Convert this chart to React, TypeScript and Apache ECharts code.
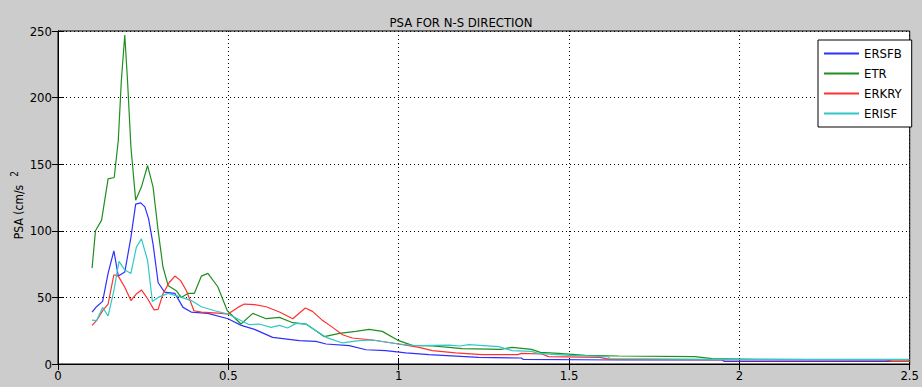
import React, { useEffect, useRef } from "react";
import * as echarts from "echarts";

const TITLE = "PSA FOR N-S DIRECTION";
const SERIES_NAMES = ["ERSFB", "ETR", "ERKRY", "ERISF"];
const X_TICKS = [0, 0.5, 1, 1.5, 2, 2.5];
const Y_TICKS = [0, 50, 100, 150, 200, 250];

const ersfb: [number, number][] = [
  [0.1, 39], [0.113, 43], [0.131, 47], [0.147, 68], [0.164, 85], [0.177, 66], [0.196, 69],
  [0.214, 95], [0.228, 120], [0.243, 121], [0.255, 118], [0.266, 109], [0.279, 90], [0.294, 61],
  [0.313, 54], [0.343, 53], [0.367, 42.5], [0.391, 39], [0.44, 38], [0.499, 34], [0.538, 29],
  [0.577, 26], [0.63, 20], [0.708, 17.5], [0.757, 17], [0.787, 15], [0.855, 13.8], [0.904, 10.7],
  [0.962, 10], [1.021, 8.3], [1.089, 7], [1.235, 5], [1.36, 4.5], [1.365, 3.5], [1.645, 3],
  [1.95, 3], [1.955, 2], [2.5, 2],
];

const etr: [number, number][] = [
  [0.1, 72], [0.11, 100], [0.128, 108], [0.147, 139], [0.165, 140], [0.177, 168], [0.186, 213],
  [0.196, 247], [0.204, 213], [0.214, 163], [0.228, 123], [0.245, 133], [0.263, 149], [0.279, 133],
  [0.294, 100], [0.308, 73], [0.323, 59], [0.347, 55], [0.362, 50], [0.381, 53], [0.4, 53],
  [0.421, 66], [0.44, 68], [0.469, 58], [0.497, 40], [0.537, 30], [0.572, 38], [0.611, 34],
  [0.65, 35], [0.689, 31], [0.728, 30], [0.757, 25], [0.782, 20.5], [0.826, 23], [0.874, 24.5],
  [0.913, 26], [0.952, 24.5], [1.0, 17.5], [1.04, 14], [1.1, 13.5], [1.148, 12.5], [1.186, 11.5],
  [1.3, 11], [1.333, 12.5], [1.39, 11], [1.416, 8.7], [1.47, 8], [1.548, 6.5], [1.645, 6],
  [1.87, 5.5], [1.92, 4], [2.05, 3.5], [2.5, 3],
];

const erkry: [number, number][] = [
  [0.1, 29], [0.113, 32.5], [0.131, 40], [0.147, 45], [0.164, 67], [0.177, 66], [0.196, 57.6],
  [0.214, 47.6], [0.23, 52.6], [0.245, 55.6], [0.263, 49], [0.282, 40.6], [0.294, 41], [0.308, 52.6],
  [0.326, 61], [0.343, 66], [0.36, 62.6], [0.377, 55], [0.399, 40], [0.421, 39], [0.479, 38],
  [0.499, 37.5], [0.528, 42.5], [0.547, 45], [0.577, 44.6], [0.611, 43], [0.65, 39], [0.689, 34],
  [0.726, 42], [0.747, 39.5], [0.777, 32.6], [0.806, 27.5], [0.835, 22], [0.864, 19.5], [0.923, 18],
  [1.0, 15], [1.06, 12.5], [1.099, 10], [1.167, 8.3], [1.245, 7], [1.35, 7], [1.36, 8], [1.42, 7.5],
  [1.44, 5.5], [1.59, 5], [1.62, 3.5], [2.23, 3], [2.43, 3], [2.45, 2], [2.5, 2],
];

const erisf: [number, number][] = [
  [0.1, 33], [0.113, 32.5], [0.131, 42.5], [0.147, 36], [0.164, 55], [0.179, 77], [0.196, 70.7],
  [0.214, 68], [0.23, 87.7], [0.245, 94], [0.263, 77.7], [0.277, 47], [0.294, 50], [0.323, 53],
  [0.352, 51], [0.391, 47.6], [0.421, 43], [0.46, 40], [0.499, 37.5], [0.538, 32.5], [0.562, 29.5],
  [0.591, 30], [0.625, 27.5], [0.65, 29], [0.674, 27], [0.699, 30.5], [0.728, 30], [0.757, 25],
  [0.787, 20], [0.835, 15.8], [0.884, 17.5], [0.923, 18], [0.962, 16.5], [1.0, 15], [1.05, 13.8],
  [1.148, 14.2], [1.18, 13.5], [1.206, 14.5], [1.294, 13], [1.333, 10], [1.39, 9.5], [1.41, 8],
  [1.5, 6.5], [1.615, 5.5], [1.62, 4], [1.95, 3.5], [2.5, 3.5],
];

const SERIES_DATA = [ersfb, etr, erkry, erisf];
const COLORS = ["#2f2fff", "#1f8f1f", "#ff3030", "#30c8c8"];

const FONT = "'Liberation Sans Narrow', 'Arial Narrow', 'DejaVu Sans Condensed', sans-serif";

export default function App() {
  const ref = useRef<HTMLDivElement>(null);

  useEffect(() => {
    if (!ref.current) return;
    const chart = echarts.init(ref.current, null, { renderer: "svg" });

    const xMin = X_TICKS[0];
    const xMax = X_TICKS[X_TICKS.length - 1];
    const yMin = Y_TICKS[0];
    const yMax = Y_TICKS[Y_TICKS.length - 1];

    const labelStyle = { color: "#000", fontFamily: FONT, fontSize: 13 };

    chart.setOption({
      animation: false,
      backgroundColor: "#cccccc",
      title: {
        text: TITLE,
        left: "center",
        top: 11,
        textStyle: { color: "#000", fontFamily: FONT, fontSize: 13, fontWeight: "normal" },
      },
      grid: {
        left: 58,
        right: 10,
        top: 31,
        bottom: 23,
        show: true,
        backgroundColor: "#ffffff",
        borderColor: "#000",
        borderWidth: 1,
      },
      legend: {
        data: SERIES_NAMES.map((name) => ({ name, icon: "rect" })),
        orient: "vertical",
        left: 818,
        top: 40,
        backgroundColor: "#ffffff",
        borderColor: "#000",
        borderWidth: 1,
        borderRadius: 0,
        padding: [6, 10, 6, 6],
        itemWidth: 35,
        itemHeight: 2,
        itemGap: 5,
        textStyle: { color: "#000", fontFamily: FONT, fontSize: 13, lineHeight: 15 },
      },
      xAxis: [
        {
          type: "value",
          min: xMin,
          max: xMax,
          interval: 0.5,
          axisLine: { show: true, lineStyle: { color: "#000", width: 1 } },
          axisTick: { show: true, inside: true, length: 6, lineStyle: { color: "#000" } },
          axisLabel: { ...labelStyle, margin: 5 },
          splitLine: { show: true, lineStyle: { color: "#000", type: [1, 3], width: 1 } },
        },
        {
          type: "value",
          position: "top",
          min: xMin,
          max: xMax,
          interval: 0.5,
          axisLine: { show: true, lineStyle: { color: "#000", width: 1 } },
          axisTick: { show: true, inside: true, length: 6, lineStyle: { color: "#000" } },
          axisLabel: { show: false },
          splitLine: { show: false },
        },
      ],
      yAxis: [
        {
          type: "value",
          min: yMin,
          max: yMax,
          interval: 50,
          axisLine: { show: true, lineStyle: { color: "#000", width: 1 } },
          axisTick: { show: true, inside: true, length: 6, lineStyle: { color: "#000" } },
          axisLabel: { ...labelStyle, margin: 6 },
          splitLine: { show: true, lineStyle: { color: "#000", type: [1, 3], width: 1 } },
        },
        {
          type: "value",
          position: "right",
          min: yMin,
          max: yMax,
          interval: 50,
          axisLine: { show: true, lineStyle: { color: "#000", width: 1 } },
          axisTick: { show: true, inside: true, length: 6, lineStyle: { color: "#000" } },
          axisLabel: { show: false },
          splitLine: { show: false },
        },
      ],
      graphic: [
        {
          type: "text",
          x: 19,
          y: 212,
          rotation: Math.PI / 2,
          style: {
            text: "PSA (cm/s",
            fill: "#000",
            font: `12px ${FONT}`,
            align: "center",
            verticalAlign: "middle",
          },
        },
        {
          type: "text",
          x: 14,
          y: 174,
          rotation: Math.PI / 2,
          style: {
            text: "2",
            fill: "#000",
            font: `10px ${FONT}`,
            align: "center",
            verticalAlign: "middle",
          },
        },
      ],
      series: SERIES_NAMES.map((name, i) => ({
        name,
        type: "line",
        data: SERIES_DATA[i],
        symbol: "none",
        xAxisIndex: 0,
        yAxisIndex: 0,
        lineStyle: { color: COLORS[i], width: 1.2 },
        itemStyle: { color: COLORS[i] },
      })),
    });

    return () => chart.dispose();
  }, []);

  return (
    <div
      ref={ref}
      style={{ position: "fixed", left: 0, top: 0, width: 922, height: 387 }}
    />
  );
}
